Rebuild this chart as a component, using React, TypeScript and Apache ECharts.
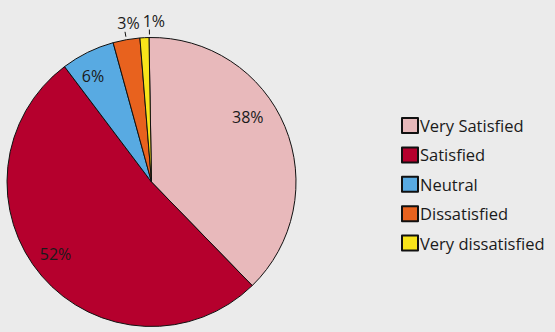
import React, { useEffect, useRef } from 'react';
import * as echarts from 'echarts';

const categories = ['Very Satisfied', 'Satisfied', 'Neutral', 'Dissatisfied', 'Very dissatisfied'];
const values = [38, 52, 6, 3, 1];
const colors = ['#e8b9bb', '#b5002d', '#58aae2', '#e8621e', '#f8e41a'];
const outsideLabel = [false, false, false, true, true];

const CX = 151.5;
const CY = 182;
const R = 144.5;
const START = 91;
const INSIDE_RATIO = [0.805, 0.83, 0.84, 1, 1];
const ANGLE_NUDGE = [-11.5, 3.7, -2.6, 0, 2];
const TEXT_SHIFT_X = [0, 0, 0, 3.5, 4.5];
const FONT = '"Open Sans", sans-serif';

export default function App() {
  const ref = useRef<HTMLDivElement>(null);
  useEffect(() => {
    document.body.style.margin = '0';
    const chart = echarts.init(ref.current!, null, { renderer: 'svg' });
    const total = values.reduce((a, b) => a + b, 0);
    const mids: number[] = [];
    let cum = 0;
    values.forEach((v) => {
      mids.push(90 - START + (360 * (cum + v / 2)) / total);
      cum += v;
    });
    chart.setOption({
      animation: false,
      backgroundColor: '#ebebeb',
      legend: {
        orient: 'vertical',
        left: 401,
        top: 117,
        padding: 0,
        itemWidth: 16,
        itemHeight: 15,
        itemGap: 12.4,
        icon: 'rect',
        textStyle: { fontFamily: FONT, fontSize: 16.5, color: '#1a1a1a', padding: [0, 0, 0, -3] },
        data: categories,
      },
      series: [
        {
          type: 'pie',
          center: [CX, CY],
          radius: R,
          startAngle: START,
          clockwise: true,
          avoidLabelOverlap: false,
          emphasis: { disabled: true },
          itemStyle: { borderColor: '#111', borderWidth: 1 },
          label: {
            show: true,
            formatter: '{c}%',
            fontFamily: FONT,
            fontSize: 16,
            color: '#1a1a1a',
          },
          labelLine: { show: true, length: 6, length2: 0, lineStyle: { color: '#111', width: 1 } },
          labelLayout: (p: any) => {
            const i = p.dataIndex;
            const a = ((mids[i] + ANGLE_NUDGE[i]) * Math.PI) / 180;
            const ux = Math.sin(a);
            const uy = -Math.cos(a);
            if (!outsideLabel[i]) {
              const d = R * INSIDE_RATIO[i];
              return { x: CX + ux * d, y: CY + uy * d, align: 'center', verticalAlign: 'middle' };
            }
            const p1 = [CX + ux * (R + 3), CY + uy * (R + 3)];
            const p2 = [CX + ux * (R + 8), CY + uy * (R + 8)];
            return {
              x: p2[0] + TEXT_SHIFT_X[i],
              y: p2[1] - 9,
              align: 'center',
              verticalAlign: 'middle',
              labelLinePoints: [p1, p2, p2],
            };
          },
          data: categories.map((name, i) => ({
            name,
            value: values[i],
            itemStyle: { color: colors[i] },
            label: { position: outsideLabel[i] ? 'outside' : 'inside' },
            labelLine: { show: outsideLabel[i] },
          })),
        },
      ],
    });
    return () => chart.dispose();
  }, []);
  return <div ref={ref} style={{ width: 555, height: 332 }} />;
}
